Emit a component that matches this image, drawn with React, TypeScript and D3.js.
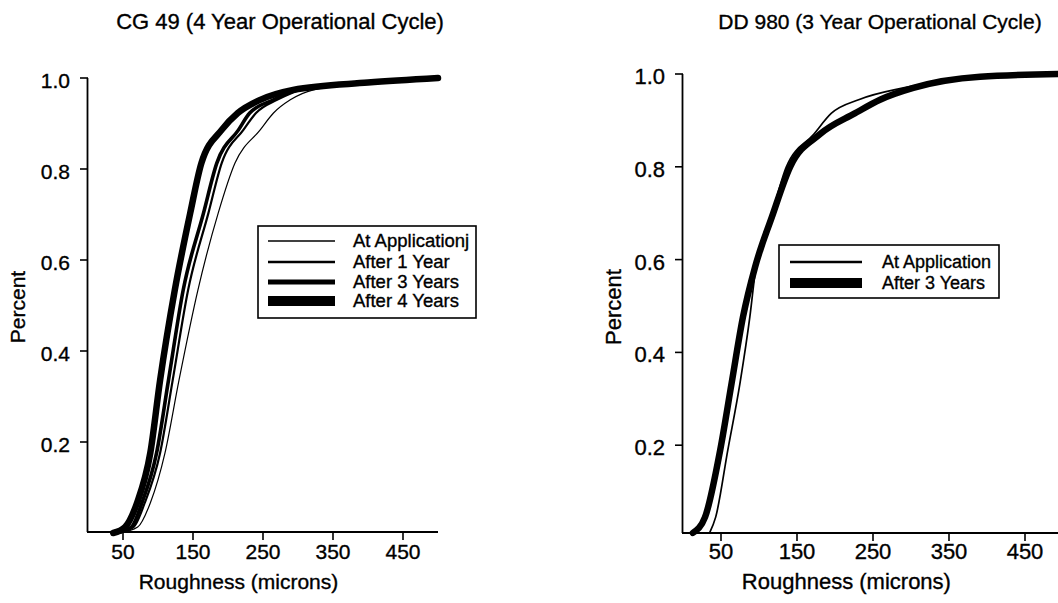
import React from "react";
import * as d3 from "d3";

// ---- Data ----
// Cumulative fraction levels (shared by the series of each panel)
const CG49_PERCENT = [0, 0.013, 0.066, 0.176, 0.336, 0.534, 0.703, 0.813, 0.886, 0.923, 0.952, 0.974, 0.99, 1.0];
// Roughness (microns) at which each series reaches the levels above
const CG49_AT_APPLICATION = [45, 71, 89, 110, 130, 157, 186, 210, 246, 265, 289, 322, 410, 500];
const CG49_AFTER_1_YEAR = [42, 65, 81, 103, 121, 143, 172, 191, 222, 240, 270, 305, 405, 500];
const CG49_AFTER_3_YEARS = [40, 62, 77, 98, 115, 136, 165, 184, 215, 231, 265, 300, 405, 500];
const CG49_AFTER_4_YEARS = [36, 53, 70, 89, 103, 124, 146, 162, 191, 214, 246, 293, 400, 500];

const DD980_PERCENT = [0.011, 0.045, 0.19, 0.334, 0.477, 0.585, 0.692, 0.8, 0.87, 0.915, 0.945, 0.97, 0.994, 1.0];
const DD980_AT_APPLICATION = [35, 43, 59, 75, 88, 96, 116, 136, 172, 195, 232, 290, 391, 500];
const DD980_AFTER_3_YEARS = [13, 29, 49, 64, 79, 95, 117, 141, 180, 226, 260, 303, 391, 500];

const X_TICKS = [50, 150, 250, 350, 450];
const Y_TICKS = [0.2, 0.4, 0.6, 0.8, 1.0];

const CG49_LABELS = ["At Applicationj", "After 1 Year", "After 3 Years", "After 4 Years"];
const DD980_LABELS = ["At Application", "After 3 Years"];

const FONT = "'Liberation Sans', Arial, Helvetica, sans-serif";
const TXT_STROKE = 0.35;

type Series = { label: string; xs: number[]; width: number; legendWidth: number };

type PanelProps = {
  title: string;
  titleX: number;
  titleSize: number;
  xRange: [number, number];
  yRange: [number, number];
  axisY: number;
  percent: number[];
  series: Series[];
  fontSize: number;
  yLabelX: number;
  legend: { x: number; y: number; w: number; h: number; rowY: number[]; sx0: number; sx1: number; tx: number; fs: number };
};

function Panel(p: PanelProps) {
  const x = d3.scaleLinear().domain([0, 500]).range(p.xRange);
  const y = d3.scaleLinear().domain([0, 1]).range(p.yRange);
  const axisX = x(0);
  const line = d3
    .line<[number, number]>()
    .x((d) => x(d[0]))
    .y((d) => y(d[1]))
    .curve(d3.curveMonotoneX);
  const xMid = (p.xRange[0] + x(430)) / 2;
  return (
    <g fontFamily={FONT} fill="#000" stroke="none">
      <text x={p.titleX} y={29} fontSize={p.titleSize} textAnchor="middle" stroke="#000" strokeWidth={TXT_STROKE}>
        {p.title}
      </text>
      {/* curves */}
      {p.series.map((s, i) => (
        <path
          key={i}
          d={line(s.xs.map((v, j) => [v, p.percent[j]] as [number, number])) || ""}
          fill="none"
          stroke="#000"
          strokeWidth={s.width}
          strokeLinejoin="round"
          strokeLinecap="round"
        />
      ))}
      {/* y axis */}
      <line x1={axisX - 0.5} x2={axisX - 0.5} y1={y(1)} y2={p.axisY} stroke="#000" strokeWidth={1.8} />
      {Y_TICKS.map((t) => (
        <g key={t}>
          <line x1={axisX - 8} x2={axisX} y1={y(t)} y2={y(t)} stroke="#000" strokeWidth={1.6} />
          <text
            x={axisX - 18}
            y={y(t) + 10}
            fontSize={p.fontSize}
            textAnchor="end"
            stroke="#000"
            strokeWidth={TXT_STROKE}
          >
            {t.toFixed(1)}
          </text>
        </g>
      ))}
      <text
        transform={`translate(${p.yLabelX},${307}) rotate(-90)`}
        fontSize={p.fontSize}
        textAnchor="middle"
        stroke="#000"
        strokeWidth={TXT_STROKE}
      >
        Percent
      </text>
      {/* x axis */}
      <line x1={axisX - 1} x2={p.xRange[1]} y1={p.axisY} y2={p.axisY} stroke="#000" strokeWidth={1.8} />
      {X_TICKS.map((t) => (
        <g key={t}>
          <line x1={x(t)} x2={x(t)} y1={p.axisY} y2={p.axisY + 8} stroke="#000" strokeWidth={1.6} />
          <text x={x(t)} y={559} fontSize={p.fontSize} textAnchor="middle" stroke="#000" strokeWidth={TXT_STROKE}>
            {t}
          </text>
        </g>
      ))}
      <text x={xMid} y={589} fontSize={p.fontSize} textAnchor="middle" stroke="#000" strokeWidth={TXT_STROKE}>
        Roughness (microns)
      </text>
      {/* legend */}
      <rect
        x={p.legend.x}
        y={p.legend.y}
        width={p.legend.w}
        height={p.legend.h}
        fill="#fff"
        stroke="#000"
        strokeWidth={1.6}
      />
      {p.series.map((s, i) => (
        <g key={i}>
          <line
            x1={p.legend.sx0}
            x2={p.legend.sx1}
            y1={p.legend.rowY[i]}
            y2={p.legend.rowY[i]}
            stroke="#000"
            strokeWidth={s.legendWidth}
          />
          <text
            x={p.legend.tx}
            y={p.legend.rowY[i] + 6}
            fontSize={p.legend.fs}
            stroke="#000"
            strokeWidth={TXT_STROKE}
          >
            {s.label}
          </text>
        </g>
      ))}
    </g>
  );
}

export default function App() {
  const leftSeries: Series[] = [
    { label: CG49_LABELS[0], xs: CG49_AT_APPLICATION, width: 1.2, legendWidth: 1.3 },
    { label: CG49_LABELS[1], xs: CG49_AFTER_1_YEAR, width: 2.2, legendWidth: 2.5 },
    { label: CG49_LABELS[2], xs: CG49_AFTER_3_YEARS, width: 3.6, legendWidth: 5 },
    { label: CG49_LABELS[3], xs: CG49_AFTER_4_YEARS, width: 6.5, legendWidth: 10 },
  ];
  const rightSeries: Series[] = [
    { label: DD980_LABELS[0], xs: DD980_AT_APPLICATION, width: 1.7, legendWidth: 2.5 },
    { label: DD980_LABELS[1], xs: DD980_AFTER_3_YEARS, width: 6.5, legendWidth: 10 },
  ];
  return (
    <svg
      width={1058}
      height={603}
      style={{ position: "absolute", left: 0, top: 0, background: "#fff" }}
    >
      <rect width={1058} height={603} fill="#fff" />
      <Panel
        title="CG 49 (4 Year Operational Cycle)"
        titleX={280}
        titleSize={22}
        xRange={[88, 438]}
        yRange={[533, 78]}
        axisY={532}
        percent={CG49_PERCENT}
        series={leftSeries}
        fontSize={21}
        yLabelX={25}
        legend={{ x: 258, y: 226, w: 218, h: 92, rowY: [241, 262, 282, 301], sx0: 268, sx1: 335, tx: 353, fs: 18.5 }}
      />
      <Panel
        title="DD 980 (3 Year Operational Cycle)"
        titleX={880}
        titleSize={21}
        xRange={[683, 1063]}
        yRange={[538, 74]}
        axisY={533}
        percent={DD980_PERCENT}
        series={rightSeries}
        fontSize={22}
        yLabelX={621}
        legend={{ x: 779, y: 245, w: 220, h: 53, rowY: [262, 283], sx0: 790, sx1: 862, tx: 882, fs: 18 }}
      />
    </svg>
  );
}
